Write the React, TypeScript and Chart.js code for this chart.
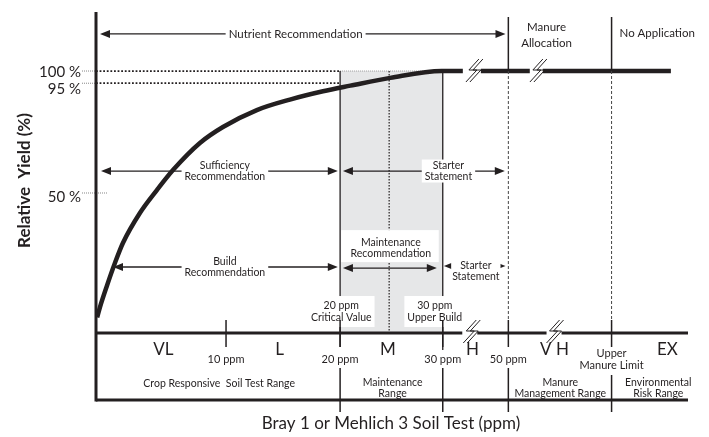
import React, { useEffect, useRef } from 'react';
import { Chart, registerables } from 'chart.js';

Chart.register(...registerables);

const INK = '#231f20';
const FONT = 'Lato, "Open Sans", sans-serif';

// ---------- data (x = position on the broken soil-test axis, y = relative yield %) ----------
const curveX = [-1.3, -1.05, -0.44, 0.26, 0.96, 2.45, 3.94, 5.35, 7.71, 9.73, 12.7, 15.6, 18.5, 20.9, 24.4, 28.9, 30.76];
const curveY = [-1, 3.25, 12.0, 21.3, 29.5, 41.8, 51.2, 59.4, 70.5, 77.05, 84.0, 88.3, 91.7, 94.0, 97.2, 100, 100];
const plateauStart = [32.34, 37.77];
const plateauEnd = [36.63, 49.0];
const plateauLevel = 100;

const yTickValues = [100, 95, 50];
const yTickLabels = ['100 %', '95 %', '50 %'];

const boundaryPos = [10, 20, 29, 34.75, 43.8];
const boundaryLabels = ['10 ppm', '20 ppm', '30 ppm', '50 ppm', 'Upper\nManure Limit'];

const classLabels = ['VL', 'L', 'M', 'H', 'V H', 'EX'];
const classPos = [4.5, 14.7, 24.2, 31.6, 38.8, 48.7];

const rangeLabels = ['Crop Responsive  Soil Test Range', 'Maintenance\nRange', 'Manure\nManagement Range', 'Environmental\nRisk Range'];
const rangePos = [9.4, 24.6, 39.3, 47.9];

const maintenanceZone = [20, 29];
const zoneMid = 24.3;
const curveBreakPos = [31.73, 37.34];
const axisBreakPos = [31.5, 38.8];

const arrowLabels = ['Nutrient Recommendation', 'Sufficiency\nRecommendation', 'Starter\nStatement', 'Build\nRecommendation', 'Maintenance\nRecommendation', 'Starter\nStatement'];
const arrowFrom = [-1.05, -0.96, 20.25, 0.09, 20.25, 29.1];
const arrowTo = [34.5, 19.8, 34.44, 19.8, 28.48, 34.5];
const arrowLevel = [115.2, 59.0, 59.0, 19.65, 19.2, 20.1];
const arrowLabelX = [16.1, 9.9, 29.5, 9.9, 24.45, 31.9];

const headerLabels = ['Manure\nAllocation', 'No Application'];
const headerX = [38.1, 47.8];
const headerY = [114.8, 115.6];

const markerLabels = ['20 ppm\nCritical Value', '30 ppm\nUpper Build'];
const markerX = [20.1, 28.3];
const markerY = [1.2, 1.2];

const xTitle = 'Bray 1 or Mehlich 3 Soil Test (ppm)';
const yTitle = 'Relative  Yield (%)';

const X_MIN = -1.4, X_MAX = 50.5, Y_MIN = -7.4, Y_MAX = 124.2;

// ---------- drawing helpers ----------
function setFont(ctx: CanvasRenderingContext2D, size: number, weight = 'normal') {
  ctx.font = `${weight} ${size}px ${FONT}`;
}
function maxWidth(ctx: CanvasRenderingContext2D, text: string) {
  return Math.max(...text.split('\n').map((l) => ctx.measureText(l).width));
}
function drawText(ctx: CanvasRenderingContext2D, text: string, cx: number, cy: number, size: number, lh: number, align: CanvasTextAlign = 'center') {
  setFont(ctx, size);
  ctx.fillStyle = INK;
  ctx.textAlign = align;
  ctx.textBaseline = 'middle';
  const lines = text.split('\n');
  const top = cy - ((lines.length - 1) * lh) / 2;
  lines.forEach((l, i) => ctx.fillText(l, cx, top + i * lh));
}
function whiteBox(ctx: CanvasRenderingContext2D, x1: number, y1: number, x2: number, y2: number) {
  ctx.fillStyle = '#ffffff';
  ctx.fillRect(x1, y1, x2 - x1, y2 - y1);
}
function line(ctx: CanvasRenderingContext2D, x1: number, y1: number, x2: number, y2: number, w: number, color = INK, dash: number[] = []) {
  ctx.save();
  ctx.strokeStyle = color;
  ctx.lineWidth = w;
  ctx.setLineDash(dash);
  ctx.beginPath();
  ctx.moveTo(x1, y1);
  ctx.lineTo(x2, y2);
  ctx.stroke();
  ctx.restore();
}
function head(ctx: CanvasRenderingContext2D, x: number, y: number, dir: number) {
  const L = 10, W = 4;
  ctx.fillStyle = INK;
  ctx.beginPath();
  ctx.moveTo(x, y);
  ctx.lineTo(x - dir * L, y - W);
  ctx.lineTo(x - dir * L, y + W);
  ctx.closePath();
  ctx.fill();
}
function bolt(ctx: CanvasRenderingContext2D, cx: number, cy: number) {
  ctx.save();
  ctx.strokeStyle = INK;
  ctx.lineWidth = 1;
  for (const o of [-2, 2]) {
    ctx.beginPath();
    ctx.moveTo(cx + 7 + o, cy - 12);
    ctx.lineTo(cx - 3 + o, cy - 1);
    ctx.lineTo(cx + 5 + o, cy - 1);
    ctx.lineTo(cx - 6 + o, cy + 11);
    ctx.stroke();
  }
  ctx.restore();
}

const diagramPlugin = {
  id: 'soilDiagram',
  beforeDatasetsDraw(chart: any) {
    const ctx: CanvasRenderingContext2D = chart.ctx;
    const X = (v: number) => chart.scales.x.getPixelForValue(v);
    const Y = (v: number) => chart.scales.y.getPixelForValue(v);
    const ca = chart.chartArea;
    const base = ca.bottom;
    const zx1 = X(maintenanceZone[0]);
    const zx2 = X(maintenanceZone[1]);
    const zTop = Y(100);
    ctx.save();
    ctx.fillStyle = '#e6e7e8';
    ctx.fillRect(zx1, zTop, zx2 - zx1, base - zTop);
    line(ctx, zx1, zTop, zx2, zTop, 1, '#9a9a9a', [1, 1]);
    line(ctx, X(zoneMid), zTop, X(zoneMid), base, 1.2, INK, [1.5, 1.5]);
    line(ctx, zx1, zTop, zx1, base + 14, 1.3);
    line(ctx, zx2, zTop, zx2, base + 17, 1.3);
    // yield reference lines
    yTickValues.forEach((v) => {
      const y = Y(v);
      line(ctx, 82, y, ca.left, y, 1, '#888888', [1, 1]);
      if (v >= 95) line(ctx, ca.left, y, zx1, y, 1.8, INK, [1.8, 1.8]);
      else line(ctx, ca.left, y, ca.left + 12, y, 1, '#888888', [1, 1]);
    });

    // arrows with labels
    arrowLabels.forEach((lbl, i) => {
      const y = Y(arrowLevel[i]);
      const x1 = X(arrowFrom[i]);
      const x2 = X(arrowTo[i]);
      line(ctx, x1 + 6, y, x2 - 6, y, 1.3);
      head(ctx, x1, y, -1);
      head(ctx, x2, y, 1);
      const cx = X(arrowLabelX[i]);
      const fs = i === 0 ? 11.5 : 10.5;
      setFont(ctx, fs);
      const w = maxWidth(ctx, lbl);
      const n = lbl.split('\n').length;
      const lh = i === 0 ? 12 : 10.5;
      if (i === 4) {
        const cy = y - 20;
        whiteBox(ctx, X(maintenanceZone[0]) + 1, cy - 18, X(maintenanceZone[1]) - 4, cy + 14);
        drawText(ctx, lbl, cx, cy, fs, lh);
      } else if (i === 5) {
        whiteBox(ctx, cx - w / 2 - 1, y - 5, cx + w / 2 + 1, y + 5);
        drawText(ctx, lbl, cx, y + 5, fs, lh);
      } else {
        whiteBox(ctx, cx - w / 2 - 3, y - (n * lh) / 2 - 1, cx + w / 2 + 3, y + (n * lh) / 2 + 1);
        drawText(ctx, lbl, cx, y, fs, lh);
      }
    });

    // marker boxes
    markerLabels.forEach((m, i) => {
      const cx = X(markerX[i]);
      const cy = Y(markerY[i]);
      setFont(ctx, 10.5);
      const w = maxWidth(ctx, m);
      whiteBox(ctx, cx - w / 2 - 3, cy - 16, cx + w / 2 + 3, cy + 15);
      drawText(ctx, m, cx, cy, 10.5, 12);
    });
    ctx.restore();
  },
  afterDatasetsDraw(chart: any) {
    const ctx: CanvasRenderingContext2D = chart.ctx;
    const X = (v: number) => chart.scales.x.getPixelForValue(v);
    const Y = (v: number) => chart.scales.y.getPixelForValue(v);
    const ca = chart.chartArea;
    const base = ca.bottom;
    const bottom = base + 67;
    ctx.save();

    // axes frame
    line(ctx, ca.left, ca.top, ca.left, bottom + 1.5, 3);
    const b1 = X(axisBreakPos[0]);
    const b2 = X(axisBreakPos[1]);
    line(ctx, ca.left, base, b1 - 9, base, 3);
    line(ctx, b1 + 6, base, b2 - 8, base, 3);
    line(ctx, b2 + 7, base, ca.right, base, 3);
    line(ctx, ca.left, bottom, ca.right, bottom, 3);

    // boundaries
    boundaryPos.forEach((p, i) => {
      const x = X(p);
      line(ctx, x, base - 13, x, base + 14, 1.5);
      if (i > 0) line(ctx, x, base + (i === 4 ? 42 : 35), x, bottom + 12, 1.5);
      if (i >= 3) {
        line(ctx, x, ca.top + 5, x, Y(100), 1.5);
        line(ctx, x, Y(100), x, base - 13, 1, '#444444', [3, 2]);
      }
      drawText(ctx, boundaryLabels[i], x, base + 26, 11, 12);
    });
    classLabels.forEach((c, i) => drawText(ctx, c, X(classPos[i]), base + 17, 17, 17));
    rangeLabels.forEach((r, i) => drawText(ctx, r, X(rangePos[i]), base + (r.includes('\n') ? 55 : 51), 10.5, 10.5));

    // breaks
    curveBreakPos.forEach((p) => bolt(ctx, X(p), Y(plateauLevel)));
    axisBreakPos.forEach((p) => bolt(ctx, X(p), base - 1));

    // header labels
    headerLabels.forEach((h, i) => drawText(ctx, h, X(headerX[i]), Y(headerY[i]), 11.5, 16));

    // y tick labels
    const offs = [1, 6, 4];
    yTickValues.forEach((v, i) => drawText(ctx, yTickLabels[i], 81, Y(v) + offs[i], 15, 15, 'right'));

    // titles
    drawText(ctx, xTitle, (ca.left + ca.right) / 2 - 1, bottom + 24, 17, 17);
    ctx.save();
    ctx.translate(25, (ca.top + base) / 2 + 8);
    ctx.rotate(-Math.PI / 2);
    setFont(ctx, 17, 'bold');
    ctx.fillStyle = INK;
    ctx.textAlign = 'center';
    ctx.textBaseline = 'middle';
    ctx.fillText(yTitle, 0, 0);
    ctx.restore();

    ctx.restore();
  },
};

export default function App() {
  const ref = useRef<HTMLCanvasElement>(null);
  useEffect(() => {
    document.body.style.margin = '0';
    const canvas = ref.current;
    if (!canvas) return;
    const lineStyle = { borderColor: INK, borderWidth: 4.5, pointRadius: 0, fill: false };
    const chart = new Chart(canvas, {
      type: 'line',
      data: {
        datasets: [
          { ...lineStyle, data: curveX.map((x, i) => ({ x, y: curveY[i] })), cubicInterpolationMode: 'monotone' },
          ...plateauStart.map((s, i) => ({
            ...lineStyle,
            data: [{ x: s, y: plateauLevel }, { x: plateauEnd[i], y: plateauLevel }],
          })),
        ],
      } as any,
      options: {
        animation: false,
        responsive: false,
        events: [],
        layout: { padding: { left: 96, right: 21, top: 12, bottom: 104 } },
        scales: {
          x: { type: 'linear', min: X_MIN, max: X_MAX, display: false },
          y: { type: 'linear', min: Y_MIN, max: Y_MAX, display: false },
        },
        plugins: { legend: { display: false }, tooltip: { enabled: false }, title: { display: false } },
      } as any,
      plugins: [diagramPlugin],
    });
    return () => chart.destroy();
  }, []);
  return (
    <div style={{ position: 'absolute', left: 0, top: 0, width: 709, height: 437, background: '#fff' }}>
      <canvas ref={ref} width={709} height={437} style={{ display: 'block' }} />
    </div>
  );
}
